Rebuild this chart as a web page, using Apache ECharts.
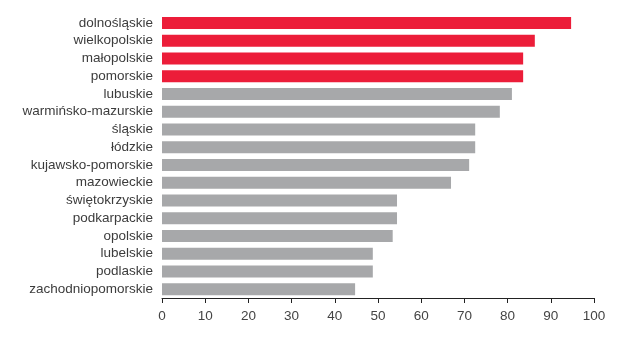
<!DOCTYPE html>
<html>
<head>
<meta charset="utf-8">
<script src="https://cdn.jsdelivr.net/npm/echarts@6/dist/echarts.min.js"></script>
<style>html,body{margin:0;padding:0;background:#fff;}#chart{width:623px;height:338px;}</style>
</head>
<body>
<div id="chart"></div>
<script>
const categories = ["dolnośląskie","wielkopolskie","małopolskie","pomorskie","lubuskie","warmińsko-mazurskie","śląskie","łódzkie","kujawsko-pomorskie","mazowieckie","świętokrzyskie","podkarpackie","opolskie","lubelskie","podlaskie","zachodniopomorskie"];
const values = [94.7,86.3,83.6,83.6,81.0,78.2,72.5,72.5,71.1,66.9,54.4,54.4,53.4,48.8,48.8,44.7];
const highlighted = [true,true,true,true,false,false,false,false,false,false,false,false,false,false,false,false];
const xTicks = [0,10,20,30,40,50,60,70,80,90,100];

const RED = '#EC1D39', GRAY = '#A7A8AA';
const chart = echarts.init(document.getElementById('chart'));
chart.setOption({
  animation: false,
  grid: { left: 162, right: 29, top: 14, bottom: 40, containLabel: false },
  xAxis: {
    type: 'value', min: xTicks[0], max: xTicks[xTicks.length-1], interval: 10,
    axisLine: { show: true, lineStyle: { color: '#222', width: 1 } },
    axisTick: { show: true, length: 5, lineStyle: { color: '#222' } },
    splitLine: { show: false },
    axisLabel: { color: '#444', fontSize: 13.5, fontFamily: 'Liberation Sans, Arial, sans-serif', margin: 11 }
  },
  yAxis: {
    type: 'category', data: categories, inverse: true,
    axisLine: { show: false }, axisTick: { show: false },
    axisLabel: { interval: 0, hideOverlap: false, color: '#3c3c3c', fontSize: 13.5, fontFamily: 'Liberation Sans, Arial, sans-serif', margin: 9 }
  },
  series: [{
    type: 'bar',
    data: values.map((v, i) => ({ value: v, itemStyle: { color: highlighted[i] ? RED : GRAY } })),
    barWidth: 12
  }]
});
</script>
</body>
</html>
